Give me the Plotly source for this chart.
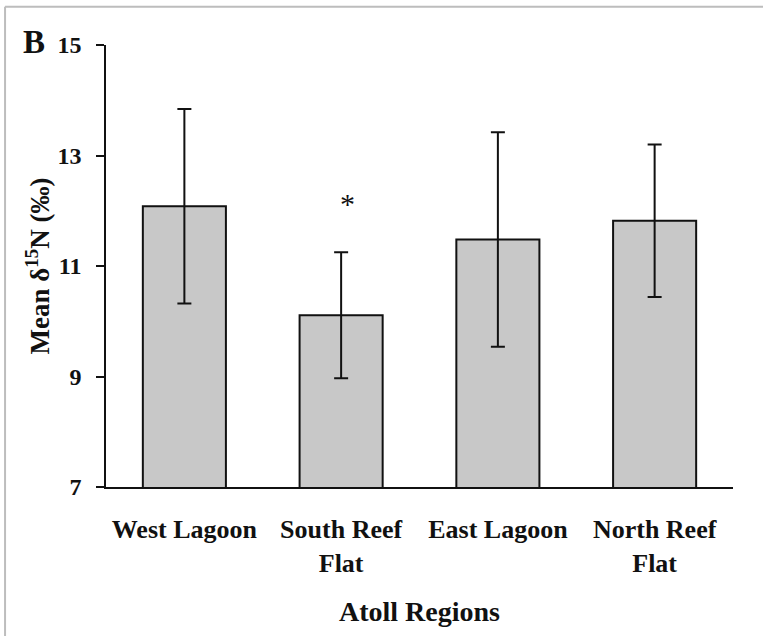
import plotly.graph_objects as go

regions = ["West Lagoon", "South Reef<br>Flat", "East Lagoon", "North Reef<br>Flat"]
means = [12.08, 10.11, 11.48, 11.82]
errors = [1.76, 1.14, 1.94, 1.38]
y_ticks = [7, 9, 11, 13, 15]

FONT = "Liberation Serif"

fig = go.Figure()
fig.add_trace(go.Bar(
    x=regions, y=means,
    marker=dict(color="#c8c8c8", line=dict(color="#111111", width=2)),
    error_y=dict(type="data", array=errors, visible=True, color="#111111", thickness=2, width=7),
    width=0.53,
))

fig.update_layout(
    width=763, height=636,
    margin=dict(l=106, r=30, t=45, b=149),
    paper_bgcolor="white", plot_bgcolor="white",
    showlegend=False,
    font=dict(family=FONT, color="#111111", size=26),
    xaxis=dict(
        showline=True, linecolor="#111111", linewidth=1.5,
        ticks="", tickfont=dict(family=FONT, size=26, color="#111111", weight="bold"),
        ticklabelstandoff=18,
        title=dict(text="<b>Atoll Regions</b>", font=dict(family=FONT, size=28, color="#111111"), standoff=25),
        showgrid=False, zeroline=False,
    ),
    yaxis=dict(
        range=[7, 15], tickvals=y_ticks,
        showline=True, linecolor="#111111", linewidth=1.5,
        ticks="outside", ticklen=8, tickwidth=1.5, tickcolor="#111111",
        tickfont=dict(family=FONT, size=24, color="#111111", weight="bold"),
        ticklabelstandoff=10,
        title=dict(text="<b>Mean δ<sup>15</sup>N (‰)</b>", font=dict(family=FONT, size=27, color="#111111"), standoff=0),
        showgrid=False, zeroline=False,
    ),
    annotations=[
        dict(text="<b>B</b>", xref="paper", yref="paper", x=-0.1144, y=1.0057,
             xanchor="center", yanchor="middle", showarrow=False,
             font=dict(family=FONT, size=33, color="#111111")),
        dict(text="*", xref="x", yref="y", x=regions[1], y=12.14, xshift=6,
             xanchor="center", yanchor="middle", showarrow=False,
             font=dict(family=FONT, size=30, color="#111111")),
    ],
    shapes=[
        dict(type="line", xref="paper", yref="paper", x0=-0.161, x1=1.06, y0=1.0866, y1=1.0866,
             line=dict(color="#bdbdbd", width=2)),
        dict(type="line", xref="paper", yref="paper", x0=-0.161, x1=-0.161, y0=1.0866, y1=-0.35,
             line=dict(color="#bdbdbd", width=2)),
    ],
)

fig.write_html("out.html", config={"displayModeBar": False},
               post_script="document.body.style.margin='0';")
